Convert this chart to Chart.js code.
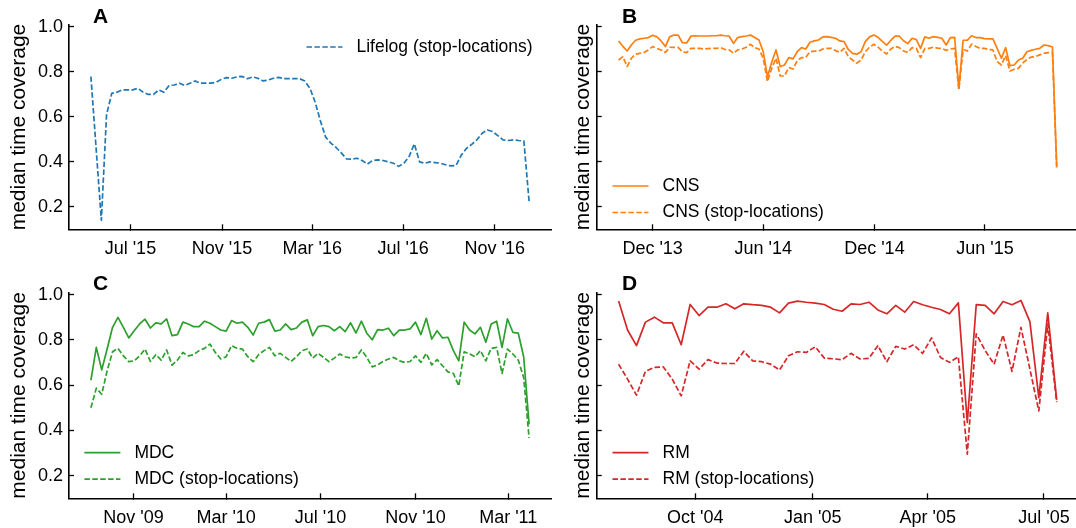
<!DOCTYPE html>
<html>
<head>
<meta charset="utf-8">
<script src="https://cdn.jsdelivr.net/npm/chart.js@4.4.1/dist/chart.umd.min.js"></script>
<style>
  html, body { margin: 0; padding: 0; background: #fff; overflow: hidden; }
  #wrap { position: relative; width: 1076px; height: 528px; overflow: hidden; }
  canvas { position: absolute; }
</style>
</head>
<body>
<div id="wrap">
  <canvas id="panel-a" width="560" height="264" style="left:0;top:0"></canvas>
  <canvas id="panel-b" width="545" height="264" style="left:540px;top:0"></canvas>
  <canvas id="panel-c" width="560" height="264" style="left:0;top:264px"></canvas>
  <canvas id="panel-d" width="545" height="264" style="left:540px;top:264px"></canvas>
</div>
<script>
// weekly median time coverage, first week given by *Start
var lifelogStart = '2015-05-09';
var lifelogStop = [0.78, 0.46, 0.14, 0.61, 0.705, 0.71, 0.72, 0.72, 0.72, 0.727,
  0.71, 0.70, 0.70, 0.72, 0.71, 0.74, 0.742, 0.75, 0.74, 0.75,
  0.76, 0.75, 0.75, 0.75, 0.754, 0.767, 0.775, 0.772, 0.778, 0.78,
  0.77, 0.778, 0.772, 0.76, 0.764, 0.772, 0.776, 0.77, 0.77, 0.77,
  0.77, 0.76, 0.727, 0.665, 0.582, 0.51, 0.483, 0.464, 0.44, 0.413,
  0.412, 0.416, 0.406, 0.39, 0.406, 0.409, 0.406, 0.40, 0.394, 0.38,
  0.394, 0.424, 0.48, 0.40, 0.394, 0.40, 0.397, 0.394, 0.387, 0.382,
  0.384, 0.43, 0.46, 0.478, 0.498, 0.527, 0.542, 0.535, 0.517, 0.498,
  0.495, 0.498, 0.495, 0.493, 0.224];

var cnsStart = '2013-10-06';
var cnsAll = [0.938, 0.914, 0.893, 0.92, 0.941, 0.947, 0.95, 0.953, 0.963, 0.956,
  0.938, 0.913, 0.956, 0.964, 0.964, 0.93, 0.929, 0.959, 0.961, 0.96,
  0.96, 0.96, 0.961, 0.961, 0.964, 0.961, 0.959, 0.927, 0.953, 0.957,
  0.96, 0.964, 0.953, 0.942, 0.89, 0.779, 0.843, 0.898, 0.824, 0.831,
  0.864, 0.858, 0.89, 0.908, 0.902, 0.932, 0.938, 0.942, 0.956, 0.957,
  0.954, 0.95, 0.938, 0.935, 0.90, 0.883, 0.879, 0.89, 0.935, 0.956,
  0.964, 0.954, 0.936, 0.919, 0.941, 0.959, 0.959, 0.939, 0.926, 0.95,
  0.944, 0.905, 0.956, 0.95, 0.957, 0.954, 0.95, 0.92, 0.953, 0.954,
  0.727, 0.941, 0.942, 0.961, 0.953, 0.953, 0.948, 0.947, 0.947, 0.905,
  0.861, 0.908, 0.828, 0.831, 0.853, 0.861, 0.89, 0.896, 0.901, 0.905,
  0.92, 0.917, 0.911, 0.379];
var cnsStop = [0.853, 0.868, 0.824, 0.861, 0.879, 0.883, 0.887, 0.898, 0.913, 0.905,
  0.898, 0.887, 0.91, 0.909, 0.909, 0.89, 0.886, 0.905, 0.905, 0.905,
  0.902, 0.904, 0.905, 0.905, 0.908, 0.90, 0.898, 0.883, 0.898, 0.902,
  0.91, 0.923, 0.908, 0.902, 0.861, 0.757, 0.816, 0.861, 0.782, 0.782,
  0.82, 0.813, 0.85, 0.864, 0.864, 0.89, 0.893, 0.893, 0.902, 0.905,
  0.905, 0.895, 0.887, 0.905, 0.868, 0.853, 0.839, 0.853, 0.89, 0.91,
  0.923, 0.91, 0.893, 0.88, 0.902, 0.914, 0.908, 0.893, 0.887, 0.908,
  0.905, 0.864, 0.905, 0.905, 0.91, 0.906, 0.905, 0.896, 0.902, 0.905,
  0.72, 0.90, 0.893, 0.924, 0.913, 0.905, 0.905, 0.90, 0.898, 0.846,
  0.831, 0.873, 0.804, 0.812, 0.816, 0.839, 0.856, 0.866, 0.868, 0.876,
  0.883, 0.886, 0.887, 0.375];

var mdcStart = '2009-09-07';
var mdcAll = [0.622, 0.767, 0.668, 0.76, 0.856, 0.90, 0.856, 0.809, 0.841, 0.871,
  0.892, 0.853, 0.876, 0.871, 0.893, 0.819, 0.824, 0.879, 0.871, 0.859,
  0.859, 0.883, 0.874, 0.859, 0.844, 0.839, 0.886, 0.874, 0.879, 0.856,
  0.822, 0.874, 0.879, 0.89, 0.839, 0.844, 0.871, 0.846, 0.853, 0.879,
  0.889, 0.819, 0.859, 0.864, 0.859, 0.841, 0.859, 0.837, 0.876, 0.831,
  0.883, 0.83, 0.801, 0.846, 0.844, 0.852, 0.819, 0.844, 0.844, 0.849,
  0.879, 0.824, 0.896, 0.804, 0.841, 0.809, 0.812, 0.753, 0.708, 0.879,
  0.844, 0.827, 0.856, 0.79, 0.871, 0.883, 0.767, 0.893, 0.834, 0.83,
  0.726, 0.427];
var mdcStop = [0.50, 0.587, 0.56, 0.664, 0.748, 0.763, 0.73, 0.704, 0.708, 0.73,
  0.76, 0.705, 0.735, 0.711, 0.756, 0.689, 0.711, 0.745, 0.73, 0.735,
  0.753, 0.763, 0.782, 0.745, 0.716, 0.726, 0.775, 0.763, 0.76, 0.726,
  0.704, 0.735, 0.753, 0.767, 0.73, 0.741, 0.723, 0.705, 0.726, 0.753,
  0.76, 0.72, 0.741, 0.723, 0.704, 0.72, 0.738, 0.726, 0.72, 0.723,
  0.756, 0.723, 0.681, 0.69, 0.705, 0.716, 0.723, 0.708, 0.701, 0.705,
  0.73, 0.701, 0.741, 0.69, 0.713, 0.686, 0.659, 0.652, 0.597, 0.748,
  0.738, 0.726, 0.753, 0.708, 0.763, 0.767, 0.652, 0.76, 0.738, 0.711,
  0.634, 0.367];

var rmStart = '2004-08-02';
var rmAll = [0.972, 0.844, 0.775, 0.879, 0.901, 0.876, 0.876, 0.779, 0.957, 0.908,
  0.945, 0.945, 0.96, 0.938, 0.96, 0.956, 0.953, 0.945, 0.92, 0.963,
  0.972, 0.967, 0.963, 0.957, 0.936, 0.927, 0.96, 0.957, 0.967, 0.933,
  0.916, 0.953, 0.923, 0.97, 0.956, 0.945, 0.935, 0.916, 0.964, 0.435,
  0.956, 0.953, 0.916, 0.97, 0.956, 0.975, 0.881, 0.545, 0.92, 0.535];
var rmStop = [0.693, 0.627, 0.556, 0.661, 0.679, 0.681, 0.627, 0.553, 0.708, 0.671,
  0.713, 0.698, 0.696, 0.696, 0.75, 0.708, 0.704, 0.693, 0.667, 0.73,
  0.748, 0.745, 0.77, 0.72, 0.717, 0.713, 0.741, 0.716, 0.719, 0.775,
  0.704, 0.772, 0.76, 0.779, 0.741, 0.809, 0.723, 0.701, 0.726, 0.295,
  0.827, 0.753, 0.693, 0.822, 0.661, 0.856, 0.672, 0.486, 0.87, 0.525];

// x tick positions (first day of month) and their labels
var lifelogTicks = ['2015-07-01', '2015-11-01', '2016-03-01', '2016-07-01', '2016-11-01'];
var lifelogTickLabels = ["Jul '15", "Nov '15", "Mar '16", "Jul '16", "Nov '16"];
var cnsTicks = ['2013-12-01', '2014-06-01', '2014-12-01', '2015-06-01'];
var cnsTickLabels = ["Dec '13", "Jun '14", "Dec '14", "Jun '15"];
var mdcTicks = ['2009-11-01', '2010-03-01', '2010-07-01', '2010-11-01', '2011-03-01'];
var mdcTickLabels = ["Nov '09", "Mar '10", "Jul '10", "Nov '10", "Mar '11"];
var rmTicks = ['2004-10-01', '2005-01-01', '2005-04-01', '2005-07-01'];
var rmTickLabels = ["Oct '04", "Jan '05", "Apr '05", "Jul '05"];

var yTicks = [0.2, 0.4, 0.6, 0.8, 1.0];

var BLUE = '#1f77b4', ORANGE = '#ff7f0e', GREEN = '#2ca02c', RED = '#d62728';
var FONT = '"Liberation Sans", Arial, Helvetica, sans-serif';
var DASH = [5.5, 2.4];

Chart.defaults.font.family = FONT;
Chart.defaults.color = '#000';

function dayNum(s) {
  var p = s.split('-');
  return Date.UTC(+p[0], +p[1] - 1, +p[2]) / 86400000;
}

// one point per week, starting at the given date
function weekly(start, values) {
  var d0 = dayNum(start);
  return values.map(function(v, i) { return {x: d0 + 7 * i, y: v}; });
}

function series(label, start, values, color, dashed) {
  return {
    label: label,
    data: weekly(start, values),
    borderColor: color,
    borderWidth: 1.7,
    borderDash: dashed ? DASH : [],
    borderJoinStyle: 'round',
    pointRadius: 0,
    tension: 0,
    fill: false
  };
}

// panel letter + matplotlib-like legend (line sample then text)
var panelDecor = {
  id: 'panelDecor',
  afterDraw: function(chart, args, opts) {
    var ctx = chart.ctx;
    ctx.save();
    ctx.fillStyle = '#000';
    ctx.font = 'bold 21px ' + FONT;
    ctx.textBaseline = 'alphabetic';
    ctx.textAlign = 'left';
    ctx.fillText(opts.letter, opts.letterX, opts.letterY);

    ctx.font = '17.5px ' + FONT;
    ctx.textBaseline = 'middle';
    chart.data.datasets.forEach(function(ds, i) {
      var y = opts.legendY + i * 26.5;
      ctx.strokeStyle = ds.borderColor;
      ctx.lineWidth = ds.borderWidth;
      ctx.setLineDash(ds.borderDash);
      ctx.beginPath();
      ctx.moveTo(opts.legendX, y);
      ctx.lineTo(opts.legendX + 36, y);
      ctx.stroke();
      ctx.fillText(ds.label, opts.legendX + 50, y);
    });
    ctx.restore();
  }
};

function makePanel(id, cfg) {
  var first = cfg.datasets[0].data[0].x;
  var last = cfg.datasets[0].data[cfg.datasets[0].data.length - 1].x;
  var margin = (last - first) * 0.05;

  new Chart(document.getElementById(id), {
    type: 'line',
    data: {datasets: cfg.datasets},
    options: {
      responsive: false,
      animation: false,
      layout: {padding: {left: 0, top: cfg.padTop, right: cfg.padRight, bottom: 0}},
      plugins: {
        legend: {display: false},
        tooltip: {enabled: false},
        panelDecor: cfg.decor
      },
      scales: {
        x: {
          type: 'linear',
          min: first - margin,
          max: last + margin,
          afterBuildTicks: function(scale) {
            scale.ticks = cfg.ticks.map(function(t) { return {value: dayNum(t)}; });
          },
          afterFit: function(scale) { scale.height = cfg.xHeight; },
          ticks: {
            autoSkip: false,
            maxRotation: 0,
            padding: 14,
            font: {size: 18},
            callback: function(v, i) { return cfg.tickLabels[i]; }
          },
          grid: {drawOnChartArea: false, tickLength: -5, tickWidth: 1.3, tickColor: '#000'},
          border: {display: true, color: '#000', width: 1.6}
        },
        y: {
          type: 'linear',
          min: 0.1,
          max: 1.01,
          afterBuildTicks: function(scale) {
            scale.ticks = yTicks.map(function(v) { return {value: v}; });
          },
          afterFit: function(scale) { scale.width = cfg.yWidth; },
          ticks: {
            display: cfg.yLabels,
            padding: 11,
            font: {size: 18},
            callback: function(v) { return v.toFixed(1); }
          },
          grid: {drawOnChartArea: false, tickLength: -5, tickWidth: 1.3, tickColor: '#000'},
          border: {display: true, color: '#000', width: 1.6},
          title: {
            display: true,
            text: 'median time coverage',
            font: {size: 21},
            padding: {top: cfg.titlePad, bottom: 0}
          }
        }
      }
    },
    plugins: [panelDecor]
  });
}

makePanel('panel-a', {
  datasets: [series('Lifelog (stop-locations)', lifelogStart, lifelogStop, BLUE, true)],
  ticks: lifelogTicks, tickLabels: lifelogTickLabels,
  padTop: 24.75, padRight: 9, xHeight: 34.7, yWidth: 69, yLabels: true, titlePad: 7,
  decor: {letter: 'A', letterX: 93, letterY: 22.5, legendX: 306.5, legendY: 47}
});

makePanel('panel-b', {
  datasets: [
    series('CNS', cnsStart, cnsAll, ORANGE, false),
    series('CNS (stop-locations)', cnsStart, cnsStop, ORANGE, true)
  ],
  ticks: cnsTicks, tickLabels: cnsTickLabels,
  padTop: 24.75, padRight: 6.4, xHeight: 34.7, yWidth: 56.7, yLabels: false, titlePad: 31,
  decor: {letter: 'B', letterX: 82, letterY: 22.5, legendX: 72.5, legendY: 186}
});

makePanel('panel-c', {
  datasets: [
    series('MDC', mdcStart, mdcAll, GREEN, false),
    series('MDC (stop-locations)', mdcStart, mdcStop, GREEN, true)
  ],
  ticks: mdcTicks, tickLabels: mdcTickLabels,
  padTop: 28.5, padRight: 9, xHeight: 29.7, yWidth: 69, yLabels: true, titlePad: 7,
  decor: {letter: 'C', letterX: 93, letterY: 26, legendX: 84.4, legendY: 188.7}
});

makePanel('panel-d', {
  datasets: [
    series('RM', rmStart, rmAll, RED, false),
    series('RM (stop-locations)', rmStart, rmStop, RED, true)
  ],
  ticks: rmTicks, tickLabels: rmTickLabels,
  padTop: 28.5, padRight: 6.4, xHeight: 29.7, yWidth: 56.7, yLabels: false, titlePad: 31,
  decor: {letter: 'D', letterX: 82, letterY: 26, legendX: 72.5, legendY: 188.7}
});
</script>
</body>
</html>
